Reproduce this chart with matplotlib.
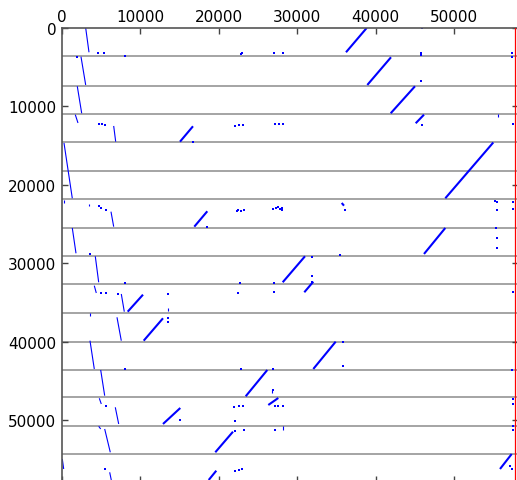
#!/usr/bin/env python3
import matplotlib
matplotlib.use('agg')
import matplotlib.pyplot as plt
import numpy as np

# contig boundaries (query axis) and end of reference
breaks = [3567, 7351, 10956, 14562, 18180, 21824, 25480, 29047,
          32653, 36271, 39965, 43533, 47011, 50667, 54234]
ref_end = 57780

# steep (thin) matches: x0, y0, x1, y1
steep_x0 = [3023, 2423, 1951, 1696, 6594, 255, 6250, 1314, 4247, 4120,
            7564, 7015, 3571, 4936, 4758, 6798, 4681, 5446, 40, 6084,
            3444, 3610, 13520, 55650, 28150, 255, 26824]
steep_y0 = [0, 3656, 7427, 11046, 12485, 14651, 23403, 25480, 29084, 32831,
            33888, 36857, 39838, 43571, 47176, 48323, 50744, 51087, 54909, 56604,
            22422, 36347, 35672, 10956, 50744, 21913, 46081]
steep_x1 = [3444, 3023, 2513, 2041, 6849, 1314, 6594, 1786, 4681, 4375,
            7946, 7564, 4120, 5446, 5013, 7232, 4936, 6161, 217, 6288,
            3444, 3610, 13520, 55650, 28150, 255, 26824]
steep_y1 = [3096, 7262, 10867, 12103, 14486, 21696, 25314, 28703, 32397, 33761,
            36143, 39838, 43443, 46844, 47902, 50450, 51087, 54055, 56183, 57585,
            22741, 36691, 36054, 11377, 51215, 22295, 46501]

# diagonal (thick) matches
diag_x0 = [38865, 41964, 45025, 16709, 46173, 55012, 18533, 48890, 30995, 32053,
           10332, 12883, 34910, 26186, 15089, 27590, 21811, 19681, 57360, 35676]
diag_y0 = [0, 3733, 7427, 12523, 11046, 14587, 23352, 25480, 29084, 32321,
           33976, 36984, 39965, 43571, 48412, 47138, 51431, 56399, 54272, 22295]
diag_x1 = [36225, 38942, 41926, 15051, 45114, 48890, 16875, 46173, 28150, 30905,
           8380, 10421, 32053, 23431, 12883, 26314, 19553, 18711, 55867, 35969]
diag_y1 = [3096, 7262, 10867, 14486, 12141, 21696, 25314, 28792, 32397, 33671,
           36143, 39838, 43443, 46922, 50450, 48030, 54055, 57585, 56183, 22639]

# short hits
dot_x = [4630, 5357, 8036, 22793, 23023, 27079, 28150, 45956, 45790, 45854, 57436, 1875,
         45790, 57436,
         4681, 5064, 5523, 16671, 22105, 22615, 23125, 27168, 27717, 28150, 45880, 57487,
         4681, 5013, 5612, 18533, 22283, 22513, 22793, 23214, 26951, 27296, 27589, 27806,
         28099, 28125, 36097, 55229, 55484, 55523, 57487, 57487,
         55357, 55446, 55484, 35459, 3571,
         31926, 27079, 31849, 31849,
         7997, 5013, 5612, 7143, 13520, 22704, 22449, 27079, 57487,
         13520, 13520,
         35880, 35880, 8036, 22793, 26875,
         26875, 57436,
         5612, 15089, 21900, 22538, 23048, 22028, 27168, 27589, 28150, 57487, 57487,
         22105, 23176, 27168, 57487, 57487,
         5523, 22105, 22538, 22959, 57142, 57461]
dot_y = [3223, 3223, 3529, 3312, 3249, 3223, 3223, 64, 3223, 3504, 3223, 3656,
         6714, 3695,
         12192, 12269, 12358, 14485, 12447, 12396, 12396, 12269, 12269, 12269, 12358, 12269,
         22677, 22932, 23187, 25314, 23314, 23187, 23314, 23225, 23123, 22996, 22868, 23059,
         22932, 23251, 23187, 22078, 22168, 23149, 23059, 22168,
         25544, 26754, 28066, 28882, 28831,
         29136, 32487, 31557, 32321,
         32487, 33761, 33761, 33888, 33888, 32449, 33799, 33672, 33672,
         36984, 37417,
         39965, 43023, 43482, 43482, 43482,
         46119, 43571,
         48195, 49903, 48323, 48119, 48157, 50030, 48195, 48195, 48195, 47265, 47902,
         51380, 51177, 51177, 50705, 51279,
         56183, 56400, 56311, 56222, 55801, 56183]

x_ticks = [0, 10000, 20000, 30000, 40000, 50000]
y_ticks = [0, 10000, 20000, 30000, 40000, 50000]


def main():
    fig = plt.figure(figsize=(5.17, 4.81), dpi=100)
    ax = fig.add_axes([0.1199, -0.0035, 0.8826, 0.9433])

    for y in breaks:
        ax.axhline(y, color='#8c8c8c', linewidth=1.1, zorder=1)
    ax.axvline(ref_end, color='red', linewidth=0.9, zorder=3)

    for i in range(len(steep_x0)):
        ax.plot([steep_x0[i], steep_x1[i]], [steep_y0[i], steep_y1[i]],
                color='blue', linewidth=0.8, solid_capstyle='butt', zorder=2)
    for i in range(len(diag_x0)):
        ax.plot([diag_x0[i], diag_x1[i]], [diag_y0[i], diag_y1[i]],
                color='blue', linewidth=1.5, solid_capstyle='butt', zorder=2)
    ax.plot(dot_x, dot_y, linestyle='none', marker='s', markersize=1.5,
            markeredgewidth=0, color='blue', zorder=2)

    ax.set_xlim(0, 58200)
    ax.set_ylim(57800, 0)
    ax.set_xticks(x_ticks)
    ax.set_yticks(y_ticks)
    ax.xaxis.tick_top()
    ax.tick_params(axis='both', direction='in', length=4, width=1,
                   color='#444444', labelsize=11, top=True, bottom=True,
                   left=True, right=True, labelbottom=False)
    ax.tick_params(axis='x', pad=3)
    ax.tick_params(axis='y', pad=4)
    for s in ax.spines.values():
        s.set_color('#555555')
        s.set_linewidth(1.2)

    fig.savefig('out.png', dpi=100)


if __name__ == "__main__":
    main()
